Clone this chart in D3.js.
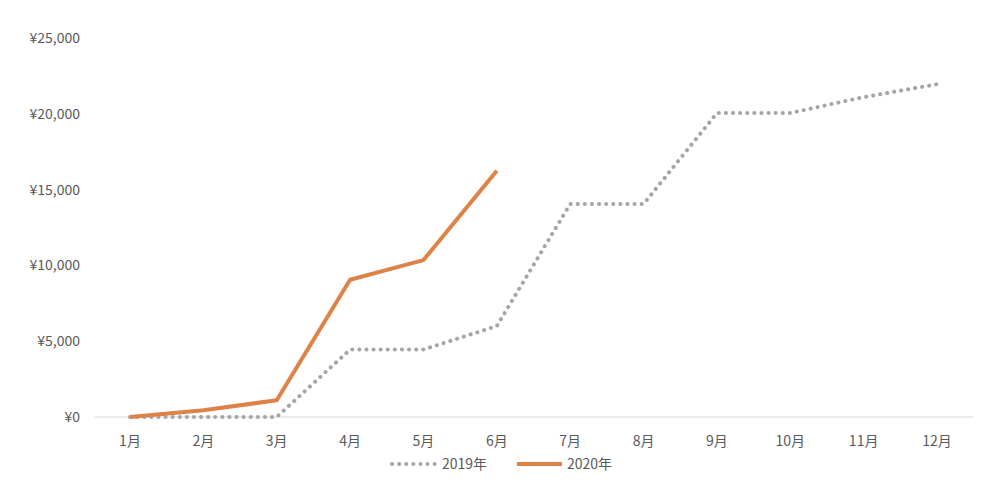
<!DOCTYPE html>
<html><head><meta charset="utf-8">
<script src="https://cdn.jsdelivr.net/npm/d3@7"></script>
<style>body{margin:0;background:#fff}text{font-family:"Noto Sans CJK JP","Noto Sans",sans-serif}</style>
</head><body><svg id="c" width="1000" height="483"></svg>
<script>
const months=["1月","2月","3月","4月","5月","6月","7月","8月","9月","10月","11月","12月"];
const s2019=[0,0,0,4450,4450,6000,14050,14050,20050,20050,21100,21950];
const s2020=[0,450,1100,9050,10350,16250];
const yTicks=[0,5000,10000,15000,20000,25000];
const svg=d3.select("#c");
const x=d3.scalePoint().domain(months).range([130,937]);
const y=d3.scaleLinear().domain([0,25000]).range([417,38]);
svg.append("line").attr("x1",95).attr("x2",973).attr("y1",y(0)).attr("y2",y(0)).attr("stroke","#d9d9d9");
svg.selectAll(".yt").data(yTicks).join("text").attr("x",80).attr("y",d=>y(d)+5).attr("text-anchor","end")
 .attr("font-size",14).attr("fill","#595959").text(d=>"¥"+d3.format(",")(d));
svg.selectAll(".xt").data(months).join("text").attr("x",d=>x(d)).attr("y",446).attr("text-anchor","middle")
 .attr("font-size",14).attr("fill","#595959").text(d=>d);
const line=d3.line().x((d,i)=>x(months[i])).y(d=>y(d));
svg.append("path").datum(s2019).attr("d",line).attr("fill","none").attr("stroke","#a5a5a5").attr("stroke-width",4).attr("stroke-dasharray","0.1 7").attr("stroke-linecap","round");
svg.append("path").datum(s2020).attr("d",line).attr("fill","none").attr("stroke","#dd8347").attr("stroke-width",4).attr("stroke-linejoin","round");
const lg=svg.append("g");
lg.append("line").attr("x1",392).attr("x2",437).attr("y1",464).attr("y2",464).attr("stroke","#a5a5a5").attr("stroke-width",4).attr("stroke-dasharray","0.1 7").attr("stroke-linecap","round");
lg.append("text").attr("x",442).attr("y",469).attr("font-size",14).attr("fill","#595959").text("2019年");
lg.append("line").attr("x1",517).attr("x2",562).attr("y1",464).attr("y2",464).attr("stroke","#dd8347").attr("stroke-width",4);
lg.append("text").attr("x",567).attr("y",469).attr("font-size",14).attr("fill","#595959").text("2020年");
</script></body></html>
